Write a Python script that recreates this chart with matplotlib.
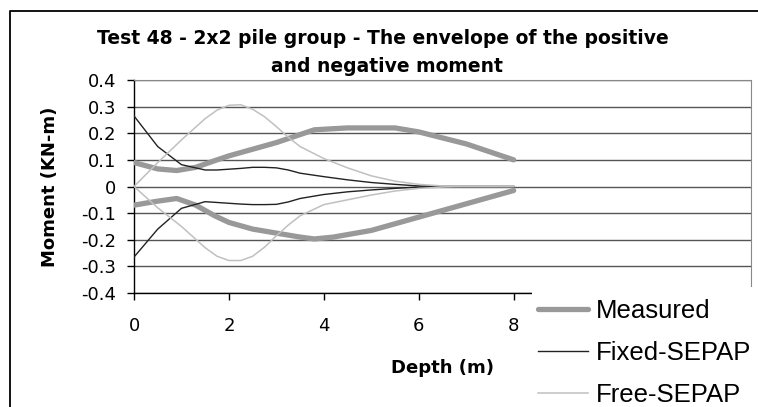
import matplotlib
matplotlib.use("Agg")
import matplotlib.pyplot as plt
from matplotlib.lines import Line2D
from matplotlib.patches import Rectangle

plt.rcParams['font.family'] = ['DejaVu Sans']

# measured envelope (thick grey)
meas_pos_depth = [0, 0.5, 0.9, 1.3, 1.7, 2.0, 2.5, 3.0, 3.5, 3.8, 4.5, 5.5, 6.0, 7.0, 8.0]
meas_pos = [0.09, 0.066, 0.06, 0.072, 0.097, 0.115, 0.14, 0.165, 0.195, 0.213, 0.22, 0.22, 0.205, 0.16, 0.10]
meas_neg_depth = [0, 0.5, 0.9, 1.3, 1.7, 2.0, 2.5, 3.0, 3.5, 3.8, 4.2, 5.0, 5.5, 6.0, 7.0, 8.0]
meas_neg = [-0.07, -0.055, -0.045, -0.07, -0.11, -0.135, -0.16, -0.175, -0.19, -0.197, -0.19, -0.165, -0.14, -0.115, -0.065, -0.015]

# SEPAP predictions
sepap_depth = [0, 0.5, 1.0, 1.5, 1.75, 2.0, 2.25, 2.5, 2.75, 3.0, 3.25, 3.5, 4.0, 4.5, 5.0, 5.5, 6.0, 6.5, 7.0, 7.5, 8.0]
fixed_pos = [0.265, 0.15, 0.082, 0.062, 0.062, 0.065, 0.068, 0.072, 0.072, 0.07, 0.062, 0.05, 0.037, 0.025, 0.015, 0.008, 0.002, 0, 0, 0, 0]
fixed_neg = [-0.265, -0.16, -0.082, -0.057, -0.06, -0.063, -0.066, -0.068, -0.068, -0.067, -0.058, -0.045, -0.03, -0.02, -0.013, -0.007, -0.002, 0, 0, 0, 0]
free_pos = [0, 0.09, 0.175, 0.255, 0.287, 0.305, 0.307, 0.29, 0.262, 0.225, 0.185, 0.15, 0.105, 0.07, 0.04, 0.02, 0.008, 0.002, 0, 0, 0]
free_neg = [0, -0.08, -0.15, -0.23, -0.262, -0.278, -0.278, -0.262, -0.228, -0.185, -0.145, -0.11, -0.068, -0.05, -0.032, -0.017, -0.007, -0.002, 0, 0, 0]

y_ticks = [-0.4, -0.3, -0.2, -0.1, 0, 0.1, 0.2, 0.3, 0.4]
y_labels = ["-0.4", "-0.3", "-0.2", "-0.1", "0", "0.1", "0.2", "0.3", "0.4"]
x_ticks = [0, 2, 4, 6, 8]

W, H = 758, 407
fig = plt.figure(figsize=(W / 100, H / 100), dpi=100)
ax = fig.add_axes([134 / W, 1 - 293 / H, (751 - 134) / W, (293 - 80) / H])

c_meas, c_fixed, c_free = '#999999', '#222222', '#c0c0c0'
ax.plot(meas_pos_depth, meas_pos, color=c_meas, lw=3.8, label='Measured', solid_capstyle='round', zorder=3)
ax.plot(meas_neg_depth, meas_neg, color=c_meas, lw=3.8, solid_capstyle='round', zorder=3)
ax.plot(sepap_depth, fixed_pos, color=c_fixed, lw=1.0, label='Fixed-SEPAP', zorder=4)
ax.plot(sepap_depth, fixed_neg, color=c_fixed, lw=1.0, zorder=4)
ax.plot(sepap_depth, free_pos, color=c_free, lw=1.1, label='Free-SEPAP', zorder=4)
ax.plot(sepap_depth, free_neg, color=c_free, lw=1.1, zorder=4)

ax.set_xlim(0, 13)
ax.set_ylim(-0.4, 0.4)
ax.set_yticks(y_ticks)
ax.set_yticklabels(y_labels)
ax.set_xticks(x_ticks)
ax.tick_params(axis='both', direction='out', length=5, width=1, labelsize=13, colors='black')
ax.tick_params(axis='x', pad=12)
ax.tick_params(axis='y', pad=8)
ax.yaxis.grid(True, color='#555555', lw=1)
ax.set_axisbelow(True)
for s in ['top', 'right']:
    ax.spines[s].set_color('#888888')
for s in ['left', 'bottom']:
    ax.spines[s].set_color('black')
    ax.spines[s].set_linewidth(1)

ax.set_xlabel('Depth (m)', fontsize=13, fontweight='bold')
ax.set_ylabel('Moment (KN-m)', fontsize=13, fontweight='bold')
ax.xaxis.set_label_coords(0.5, (293 - 368) / 213, transform=ax.transAxes)
ax.xaxis.label.set_va('center')
ax.yaxis.set_label_coords((50 - 134) / 617, 0.5, transform=ax.transAxes)
ax.yaxis.label.set_va('center')
fig.text(383 / W, 1 - 38 / H, 'Test 48 - 2x2 pile group - The envelope of the positive',
         ha='center', va='center', fontsize=13.5, fontweight='bold')
fig.text(387 / W, 1 - 67 / H, 'and negative moment',
         ha='center', va='center', fontsize=13.5, fontweight='bold')

# legend box sits over the lower-right corner of the plot area
fig.patches.append(Rectangle((532 / W, 0), 1 - 532 / W, 1 - 287 / H, transform=fig.transFigure,
                             facecolor='white', edgecolor='none', zorder=10))
leg = fig.legend(loc='upper left', bbox_to_anchor=(533 / W, 1 - 294 / H), frameon=False,
                 prop={'family': 'Liberation Sans', 'size': 18.5},
                 handlelength=1.95, handletextpad=0.28, labelspacing=0.7,
                 borderpad=0.2, borderaxespad=0)
leg.set_zorder(11)

# outer chart frame (right and bottom edges fall outside the picture)
fig.add_artist(Line2D([9.5 / W, 9.5 / W, 1], [0, 1 - 11 / H, 1 - 11 / H], transform=fig.transFigure,
                      color='black', lw=1.3))

fig.savefig('out.png', dpi=100)
